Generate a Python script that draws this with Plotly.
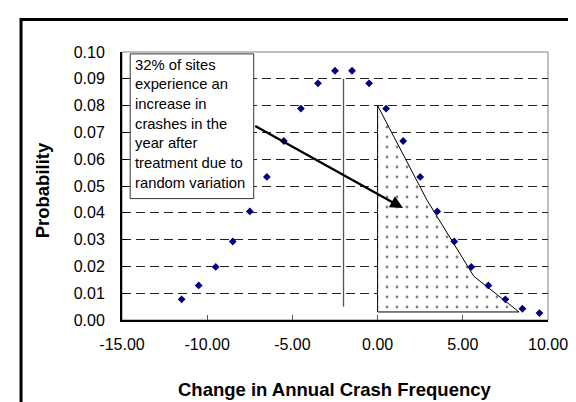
import plotly.graph_objects as go

# distribution of the change in annual crash frequency
change = [-11.5, -10.5, -9.5, -8.5, -7.5, -6.5, -5.5, -4.5, -3.5, -2.5, -1.5,
          -0.5, 0.5, 1.5, 2.5, 3.5, 4.5, 5.5, 6.5, 7.5, 8.5, 9.5]
probability = [0.0077, 0.0129, 0.0198, 0.0293, 0.0405, 0.0534, 0.0668, 0.0789,
               0.0883, 0.0930, 0.0930, 0.0883, 0.0789, 0.0668, 0.0534, 0.0405,
               0.0293, 0.0198, 0.0129, 0.0077, 0.0042, 0.0026]

# mean line
mean_x = [-2.0, -2.0]
mean_y = [0.005, 0.090]

# shaded region (sites with an increase)
area_x = [0.0, 0.0, 2.9, 5.65, 8.3, 0.0]
area_y = [0.003, 0.080, 0.0447, 0.0163, 0.003, 0.003]

x_ticks = [-15, -10, -5, 0, 5, 10]
x_tick_text = ["-15.00", "-10.00", "-5.00", "0.00", "5.00", "10.00"]
y_ticks = [0.00, 0.01, 0.02, 0.03, 0.04, 0.05, 0.06, 0.07, 0.08, 0.09, 0.10]
y_tick_text = ["0.00", "0.01", "0.02", "0.03", "0.04", "0.05", "0.06", "0.07",
               "0.08", "0.09", "0.10"]

note_lines = ["32% of sites", "experience an", "increase in", "crashes in the",
              "year after", "treatment due to", "random variation"]

font = "Arial, Liberation Sans, sans-serif"

fig = go.Figure()

# shaded area with dots
fig.add_trace(go.Scatter(
    x=area_x, y=area_y, mode="lines", fill="toself",
    line=dict(color="black", width=1),
    fillcolor="white",
    fillpattern=dict(shape=".", size=10, solidity=0.06,
                     fgcolor="black", bgcolor="white"),
    showlegend=False, hoverinfo="skip"
))

# mean line
fig.add_trace(go.Scatter(
    x=mean_x, y=mean_y, mode="lines",
    line=dict(color="#555555", width=1.3),
    showlegend=False, hoverinfo="skip"
))

# probability points
fig.add_trace(go.Scatter(
    x=change, y=probability, mode="markers",
    marker=dict(symbol="diamond", size=6, color="#000080"),
    showlegend=False
))

# text box
fig.add_shape(type="rect", xref="x", yref="y",
              x0=-14.52, x1=-7.27, y0=0.0453, y1=0.0993,
              line=dict(color="#333333", width=1), fillcolor="white",
              layer="between")

for i, line in enumerate(note_lines):
    fig.add_annotation(x=-14.33, y=0.0953 - i * 0.00735, xref="x", yref="y",
                       text=line, showarrow=False, xanchor="left",
                       yanchor="middle",
                       font=dict(family=font, size=14.8, color="black"))

# arrow
fig.add_annotation(x=1.49, y=0.0418, ax=-7.27, ay=0.0727,
                   xref="x", yref="y", axref="x", ayref="y",
                   text="", showarrow=True, arrowhead=2, arrowsize=1.1,
                   arrowwidth=2.3, arrowcolor="black")

# plot border (top/right)
fig.add_shape(type="rect", xref="paper", yref="paper", x0=0, x1=1, y0=0, y1=1,
              line=dict(color="#808080", width=1), layer="below")

# outer frame
fig.add_shape(type="rect", xref="paper", yref="paper",
              x0=-0.237, x1=1.2, y0=-0.5, y1=1.121,
              line=dict(color="black", width=3), layer="above")

# axis titles
fig.add_annotation(x=0.5, y=-0.26, xref="paper", yref="paper",
                   text="<b>Change in Annual Crash Frequency</b>",
                   showarrow=False, xanchor="center", yanchor="middle",
                   font=dict(family=font, size=18.5, color="black"))
fig.add_annotation(x=-0.186, y=0.483, xref="paper", yref="paper",
                   text="<b>Probability</b>", textangle=-90,
                   showarrow=False, xanchor="center", yanchor="middle",
                   font=dict(family=font, size=18.5, color="black"))

fig.update_xaxes(
    range=[-15, 10], tickvals=x_ticks, ticktext=x_tick_text,
    showgrid=False, zeroline=False,
    showline=True, linecolor="black", linewidth=2,
    ticks="inside", ticklen=5, tickcolor="#555555",
    ticklabelstandoff=9,
    tickfont=dict(family=font, size=16, color="black")
)
fig.update_yaxes(
    range=[0, 0.1], tickvals=y_ticks, ticktext=y_tick_text,
    showgrid=True, gridcolor="#222222", gridwidth=1, griddash="9px,5px",
    zeroline=False,
    showline=True, linecolor="black", linewidth=2,
    ticks="inside", ticklen=5, tickcolor="black",
    ticklabelstandoff=12,
    tickfont=dict(family=font, size=16, color="black")
)

fig.update_layout(
    width=576, height=402,
    margin=dict(l=114, r=36, t=44, b=90),
    paper_bgcolor="white", plot_bgcolor="white",
    font=dict(family=font, color="black")
)

fig.write_html("out.html")
